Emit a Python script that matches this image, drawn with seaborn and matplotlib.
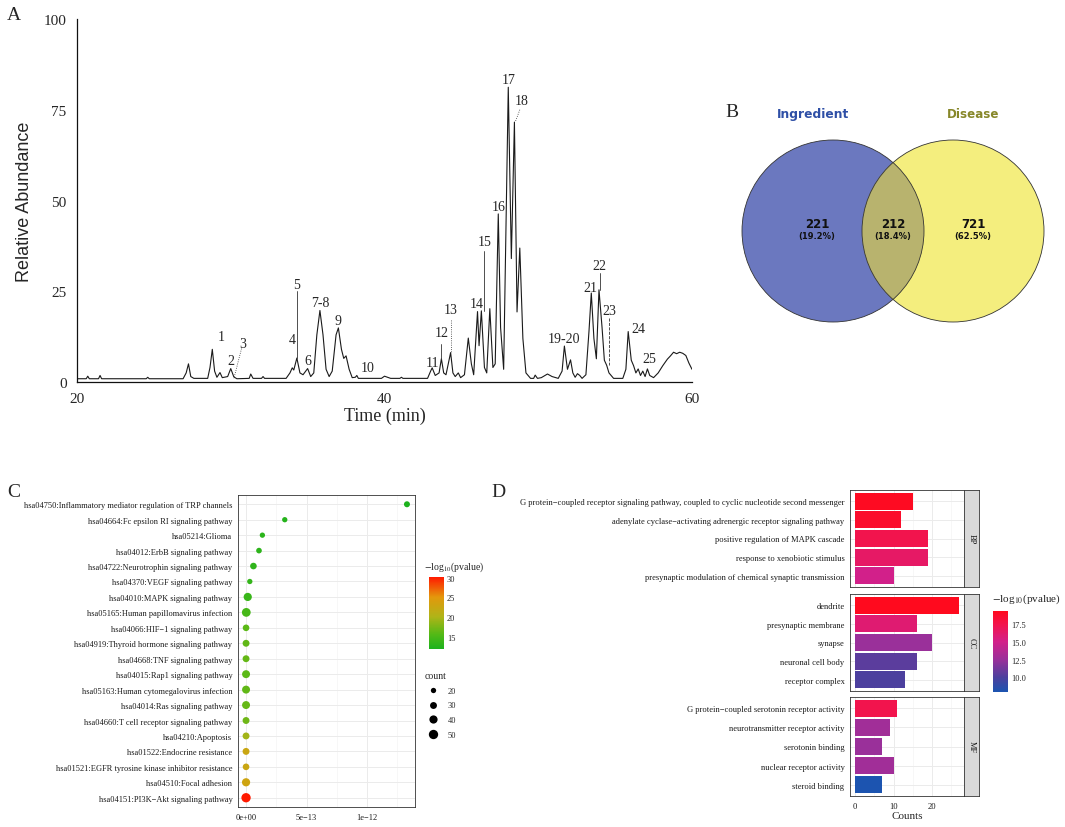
import numpy as np
import pandas as pd
import matplotlib
matplotlib.use("Agg")
import matplotlib.pyplot as plt
import seaborn as sns
from matplotlib.colors import LinearSegmentedColormap, Normalize
from matplotlib.cm import ScalarMappable
from matplotlib.patches import Circle
from matplotlib.lines import Line2D

# =========================
# DATA
# =========================

# A: chromatogram trace
time_min = [20.0, 20.6, 20.7, 20.8, 21.4, 21.5, 21.6, 24.5, 24.6, 24.7, 26.9, 27.1, 27.25, 27.4,
            27.6, 28.5, 28.65, 28.8, 28.95, 29.1, 29.3, 29.45, 29.8, 30.0, 30.2, 30.4, 31.2, 31.3,
            31.45, 32.0, 32.1, 32.2, 33.6, 33.85, 34.0, 34.1, 34.3, 34.5, 34.7, 35.0, 35.2, 35.4,
            35.6, 35.8, 36.0, 36.2, 36.4, 36.6, 36.85, 37.0, 37.2, 37.35, 37.5, 37.7, 37.9, 38.1,
            38.2, 38.3, 39.8, 40.0, 40.2, 40.4, 41.0, 41.1, 41.2, 42.8, 43.0, 43.1, 43.3, 43.55,
            43.7, 43.85, 44.0, 44.3, 44.45, 44.6, 44.8, 44.95, 45.2, 45.45, 45.65, 45.8, 46.05,
            46.15, 46.3, 46.5, 46.65, 46.85, 47.05, 47.2, 47.4, 47.55, 47.75, 48.05, 48.25, 48.45,
            48.62, 48.8, 49.0, 49.2, 49.5, 49.7, 49.8, 49.95, 50.2, 50.6, 50.9, 51.3, 51.55, 51.7,
            51.9, 52.1, 52.25, 52.4, 52.55, 52.7, 52.85, 53.1, 53.3, 53.45, 53.62, 53.78, 53.95,
            54.15, 54.3, 54.45, 54.6, 54.9, 55.5, 55.7, 55.85, 56.05, 56.2, 56.35, 56.5, 56.65,
            56.8, 56.95, 57.1, 57.25, 57.5, 57.8, 58.1, 58.4, 58.6, 58.8, 59.0, 59.2, 59.4, 59.6,
            59.8, 60.0]
abundance = [0.9, 0.9, 1.6, 0.9, 0.9, 1.8, 0.9, 0.9, 1.3, 0.9, 0.9, 2.5, 5.0, 1.5,
             1.0, 1.0, 4.0, 9.0, 3.0, 1.3, 2.6, 1.2, 1.5, 3.7, 1.4, 0.9, 1.0, 2.2,
             1.0, 1.0, 1.5, 1.0, 1.0, 2.5, 3.9, 3.3, 6.6, 2.5, 2.0, 3.7, 1.5, 2.5,
             13.0, 19.7, 13.0, 3.5, 1.5, 3.0, 13.0, 14.9, 9.0, 6.5, 7.2, 3.5, 1.2, 1.3,
             1.8, 1.0, 1.0, 1.6, 1.3, 1.0, 1.0, 1.3, 1.0, 1.0, 3.0, 3.9, 1.8, 2.5,
             6.4, 2.5, 2.0, 8.1, 2.5, 1.5, 2.5, 1.2, 2.0, 12.1, 5.0, 2.0, 19.4,
             10.0, 19.6, 4.0, 2.5, 20.2, 4.0, 5.0, 46.3, 15.0, 3.5, 81.2, 34.0, 71.6,
             19.3, 36.9, 12.0, 2.5, 1.0, 1.0, 1.9, 1.0, 1.2, 2.2, 1.5, 1.0, 3.0, 9.9,
             3.5, 6.1, 2.5, 1.3, 2.3, 1.8, 1.0, 2.0, 14.0, 24.5, 12.0, 6.4, 25.4,
             15.0, 6.0, 4.6, 2.5, 1.0, 1.0, 3.5, 13.9, 6.0, 4.5, 2.5, 3.6, 1.8,
             3.0, 1.5, 3.6, 1.8, 1.2, 2.5, 4.5, 6.3, 7.2, 8.2, 7.8, 8.2, 7.9, 7.3,
             5.2, 3.5]

peak_labels = ["1", "2", "3", "4", "5", "6", "7-8", "9", "10", "11", "12", "13", "14",
               "15", "16", "17", "18", "19-20", "21", "22", "23", "24", "25"]
label_t = [29.4, 30.0, 30.8, 34.0, 34.3, 35.0, 35.8, 37.0, 38.9, 43.1, 43.7, 44.3, 46.0,
           46.5, 47.4, 48.1, 48.9, 51.7, 53.4, 54.0, 54.6, 56.5, 57.2]
label_y = [12.4, 6.0, 10.5, 11.7, 26.8, 6.0, 21.8, 17.0, 3.9, 5.3, 13.6, 19.9, 21.6,
           38.7, 48.4, 83.2, 77.5, 12.1, 25.9, 32.1, 19.7, 14.7, 6.4]

# leader lines: x0, y0, x1, y1, style
leader_x0 = [34.3, 46.5, 54.0, 43.7, 54.6, 44.3, 30.7, 48.8]
leader_y0 = [25.0, 36.0, 30.0, 10.5, 17.5, 17.0, 9.2, 75.0]
leader_x1 = [34.3, 46.5, 54.0, 43.7, 54.6, 44.3, 30.2, 48.5]
leader_y1 = [6.6, 19.6, 25.4, 6.4, 4.6, 8.1, 0.9, 71.6]
leader_style = ["-", "-", "-", "-", "--", ":", ":", ":"]

# B: venn
venn_names = ["Ingredient", "Disease"]
venn_counts = [221, 212, 721]   # only ingredient, shared, only disease

# C: KEGG enrichment
kegg_terms = [
    "hsa04750:Inflammatory mediator regulation of TRP channels",
    "hsa04664:Fc epsilon RI signaling pathway",
    "hsa05214:Glioma",
    "hsa04012:ErbB signaling pathway",
    "hsa04722:Neurotrophin signaling pathway",
    "hsa04370:VEGF signaling pathway",
    "hsa04010:MAPK signaling pathway",
    "hsa05165:Human papillomavirus infection",
    "hsa04066:HIF\u22121 signaling pathway",
    "hsa04919:Thyroid hormone signaling pathway",
    "hsa04668:TNF signaling pathway",
    "hsa04015:Rap1 signaling pathway",
    "hsa05163:Human cytomegalovirus infection",
    "hsa04014:Ras signaling pathway",
    "hsa04660:T cell receptor signaling pathway",
    "hsa04210:Apoptosis",
    "hsa01522:Endocrine resistance",
    "hsa01521:EGFR tyrosine kinase inhibitor resistance",
    "hsa04510:Focal adhesion",
    "hsa04151:PI3K\u2212Akt signaling pathway",
]
kegg_pvalue = [1.33e-12, 3.2e-13, 1.35e-13, 1.07e-13, 6.1e-14, 3.1e-14, 1.4e-14, 2e-15,
               1e-16, 5e-17, 3e-17, 1e-16, 5e-17, 3e-17, 1e-17, 3e-20, 3e-23, 3e-23,
               1e-23, 6e-31]
kegg_count = [24, 13, 20, 22, 28, 15, 40, 45, 28, 30, 30, 38, 38, 38, 30, 30, 30, 28, 40, 57]

# D: GO enrichment
go_terms = [
    "G protein\u2212coupled receptor signaling pathway, coupled to cyclic nucleotide second messenger",
    "adenylate cyclase\u2212activating adrenergic receptor signaling pathway",
    "positive regulation of MAPK cascade",
    "response to xenobiotic stimulus",
    "presynaptic modulation of chemical synaptic transmission",
    "dendrite",
    "presynaptic membrane",
    "synapse",
    "neuronal cell body",
    "receptor complex",
    "G protein\u2212coupled serotonin receptor activity",
    "neurotransmitter receptor activity",
    "serotonin binding",
    "nuclear receptor activity",
    "steroid binding",
]
go_counts = [15, 12, 19, 19, 10, 27, 16, 20, 16, 13, 11, 9, 7, 10, 7]
go_logp = [19.2, 18.8, 17.5, 16.5, 15.0, 19.4, 16.0, 12.5, 10.5, 10.0, 17.5, 12.8, 12.5, 12.8, 7.9]
go_category = ["BP"] * 5 + ["CC"] * 5 + ["MF"] * 5

# =========================
# SETUP
# =========================

sns.set_style("white")
plt.rcParams["font.family"] = ["Liberation Serif", "DejaVu Serif"]
plt.rcParams["mathtext.fontset"] = "stix"

W, H = 1065, 828


def box(l, t, r, b):
    return [l / W, 1 - b / H, (r - l) / W, (b - t) / H]


def fxy(x, y):
    return x / W, 1 - y / H


fig = plt.figure(figsize=(W / 100, H / 100), dpi=100)

for letter, (lx, ly) in zip("ABCD", [(14, 16), (732, 113), (14, 493), (498, 493)]):
    fig.text(*fxy(lx, ly), letter, fontsize=14, ha="center", va="center")

# =========================
# A: CHROMATOGRAM
# =========================

ax_a = fig.add_axes(box(77, 20, 692, 383))
sns.lineplot(x=time_min, y=abundance, ax=ax_a, color="#1a1a1a", lw=0.8,
             estimator=None, sort=False)
ax_a.set_xlim(20, 60)
ax_a.set_ylim(0, 100)
ax_a.set_xticks([20, 40, 60])
ax_a.set_yticks([0, 25, 50, 75, 100])
sns.despine(ax=ax_a)
for sp in ax_a.spines.values():
    sp.set_linewidth(0.9)
    sp.set_color("#111111")
ax_a.tick_params(direction="out", length=4, width=0.9, labelsize=11, color="#111111")
ax_a.set_xlabel("Time (min)", fontsize=13, labelpad=1)
ax_a.set_ylabel("Relative Abundance", fontsize=13, family=["Liberation Sans"], labelpad=8)

for s, t, y in zip(peak_labels, label_t, label_y):
    ax_a.text(t, y, s, ha="center", va="center", fontsize=10)
for x0, y0, x1, y1, ls in zip(leader_x0, leader_y0, leader_x1, leader_y1, leader_style):
    ax_a.plot([x0, x1], [y0, y1], color="#333333", lw=0.6, ls=ls)

# =========================
# B: VENN
# =========================

ax_b = fig.add_axes(box(700, 80, 1065, 380))
ax_b.set_xlim(700, 1065)
ax_b.set_ylim(380, 80)
ax_b.axis("off")

left_c = Circle((833, 232), 91, facecolor="#6B78BF", edgecolor="none")
right_c = Circle((953, 232), 91, facecolor="#F4EE7E", edgecolor="none")
ax_b.add_patch(left_c)
ax_b.add_patch(right_c)
shared = Circle((833, 232), 91, facecolor="#B8B36E", edgecolor="none")
ax_b.add_patch(shared)
shared.set_clip_path(right_c)
ax_b.add_patch(Circle((833, 232), 91, fill=False, edgecolor="#333333", lw=0.6))
ax_b.add_patch(Circle((953, 232), 91, fill=False, edgecolor="#333333", lw=0.6))

total = sum(venn_counts)
for n, cx in zip(venn_counts, [817, 893, 973]):
    ax_b.text(cx, 225, str(n), ha="center", va="center", fontsize=8.5,
              fontweight="bold", family=["DejaVu Sans"], color="#111111")
    ax_b.text(cx, 236.5, f"({n / total * 100:.1f}%)", ha="center", va="center",
              fontsize=6, fontweight="bold", family=["DejaVu Sans"], color="#111111")
ax_b.text(813, 115, venn_names[0], ha="center", va="center", fontsize=8.8,
          fontweight="bold", family=["DejaVu Sans"], color="#2E4FA6")
ax_b.text(973, 115, venn_names[1], ha="center", va="center", fontsize=8.6,
          fontweight="bold", family=["DejaVu Sans"], color="#878729")

# =========================
# C: KEGG DOT PLOT
# =========================

cmap_c = LinearSegmentedColormap.from_list(
    "kegg", [(0, "#1DB21D"), (0.2, "#52B916"), (0.45, "#B0B418"), (0.72, "#E3980C"), (1, "#FF1A00")])

kegg_df = pd.DataFrame({
    "term": kegg_terms,
    "pvalue": kegg_pvalue,
    "logp": -np.log10(kegg_pvalue),
    "count": kegg_count,
    "row": np.arange(len(kegg_terms)),
})
vmin_c, vmax_c = kegg_df["logp"].min(), kegg_df["logp"].max()

ax_c = fig.add_axes(box(238, 496, 415, 808))
ax_c.set_axisbelow(True)
sns.scatterplot(data=kegg_df, x="pvalue", y="row", hue="logp", palette=cmap_c,
                hue_norm=(vmin_c, vmax_c), size="count", sizes=(14.6, 45),
                size_norm=(20, 50), legend=False, edgecolor="none", ax=ax_c)
pmax = kegg_df["pvalue"].max()
ax_c.set_xlim(-0.05 * pmax, 1.05 * pmax)
ax_c.set_ylim(len(kegg_terms) - 0.4, -0.6)
ax_c.set_yticks(kegg_df["row"])
ax_c.set_yticklabels(kegg_terms)
ax_c.set_xticks([0, 5e-13, 1e-12])
ax_c.set_xticklabels(["0e+00", "5e\u221213", "1e\u221212"])
ax_c.set_xticks([2.5e-13, 7.5e-13, 1.25e-12], minor=True)
ax_c.grid(True, which="major", color="#EBEBEB", lw=0.7)
ax_c.grid(True, which="minor", axis="x", color="#F2F2F2", lw=0.4)
ax_c.set_xlabel("")
ax_c.set_ylabel("")
for sp in ax_c.spines.values():
    sp.set_color("#333333")
    sp.set_linewidth(0.6)
ax_c.tick_params(axis="both", which="major", direction="out", length=2.5, width=0.5,
                 color="#333333", labelsize=6, labelcolor="#1a1a1a", pad=1.5)
ax_c.tick_params(which="minor", length=0)

cax_c = fig.add_axes(box(429, 578, 444, 650))
cb_c = fig.colorbar(ScalarMappable(Normalize(vmin_c, vmax_c), cmap_c), cax=cax_c, ticks=[15, 20, 25, 30])
cb_c.outline.set_visible(False)
cax_c.yaxis.set_ticks_position("both")
cax_c.tick_params(length=3, width=0.6, color="white", direction="in", labelsize=6,
                  labelleft=False, labelright=True, pad=2)
fig.text(*fxy(424, 567), r"$-$log$_{10}$(pvalue)", fontsize=7, ha="left", va="center")

size_handles = [Line2D([], [], marker="o", ls="", color="black", markeredgewidth=0,
                       markersize=np.sqrt(14.6 + (c - 20) / 30 * 30.4)) for c in [20, 30, 40, 50]]
ax_c.legend(size_handles, ["20", "30", "40", "50"], title="count", loc="upper left",
            bbox_to_anchor=fxy(420, 668), bbox_transform=fig.transFigure, frameon=False,
            fontsize=6, title_fontsize=7, labelspacing=0.8, handletextpad=0.8,
            borderpad=0, alignment="left")

# =========================
# D: GO BAR PLOT
# =========================

cmap_d = LinearSegmentedColormap.from_list(
    "go", [(0, "#1C54B0"), (0.18, "#4C409E"), (0.4, "#9A309A"), (0.62, "#D2208A"),
           (0.83, "#F2144E"), (1, "#FF0A1E")])
vmin_d, vmax_d = min(go_logp), max(go_logp)
norm_d = Normalize(vmin_d, vmax_d)

go_df = pd.DataFrame({"term": go_terms, "count": go_counts, "logp": go_logp, "category": go_category})
cmax = go_df["count"].max()

panel_px = {"BP": (491, 588), "CC": (595, 692), "MF": (698, 797)}
for cat, (top, bot) in panel_px.items():
    sub = go_df[go_df["category"] == cat]
    ax = fig.add_axes(box(850, top, 964, bot))
    ax.set_axisbelow(True)
    sns.barplot(data=sub, x="count", y="term", hue="term",
                palette=[cmap_d(norm_d(v)) for v in sub["logp"]],
                saturation=1, width=0.9, linewidth=0, legend=False, ax=ax)
    ax.set_xlim(-0.05 * cmax, 1.05 * cmax)
    ax.set_ylim(len(sub) - 0.4, -0.6)
    ax.set_xticks([0, 10, 20])
    ax.set_xticks([5, 15, 25], minor=True)
    ax.grid(True, which="major", color="#EBEBEB", lw=0.7)
    ax.grid(True, which="minor", axis="x", color="#F2F2F2", lw=0.4)
    ax.set_ylabel("")
    ax.set_xlabel("")
    for sp in ax.spines.values():
        sp.set_color("#333333")
        sp.set_linewidth(0.6)
    ax.tick_params(axis="both", which="major", direction="out", length=2.5, width=0.5,
                   color="#333333", labelsize=6.1, labelcolor="#1a1a1a", pad=1.5)
    ax.tick_params(which="minor", length=0)
    if cat != "MF":
        ax.tick_params(axis="x", bottom=False, labelbottom=False)
    else:
        ax.set_xlabel("Counts", fontsize=8, labelpad=1)

    strip = fig.add_axes(box(964, top, 979, bot))
    strip.set_facecolor("#D9D9D9")
    strip.set_xticks([])
    strip.set_yticks([])
    for sp in strip.spines.values():
        sp.set_color("#333333")
        sp.set_linewidth(0.6)
    strip.text(0.5, 0.5, cat, rotation=-90, ha="center", va="center", fontsize=6,
               color="#1a1a1a", transform=strip.transAxes)

cax_d = fig.add_axes(box(993, 612, 1008, 693))
cb_d = fig.colorbar(ScalarMappable(norm_d, cmap_d), cax=cax_d, ticks=[10, 12.5, 15, 17.5])
cb_d.outline.set_visible(False)
cax_d.yaxis.set_ticks_position("both")
cax_d.set_yticklabels(["10.0", "12.5", "15.0", "17.5"])
cax_d.tick_params(length=3, width=0.6, color="white", direction="in", labelsize=6,
                  labelleft=False, labelright=True, pad=2)
fig.text(*fxy(992, 599), r"$-$log$_{10}$(pvalue)", fontsize=8, ha="left", va="center")

plt.savefig("out.png", dpi=100)
plt.close()
